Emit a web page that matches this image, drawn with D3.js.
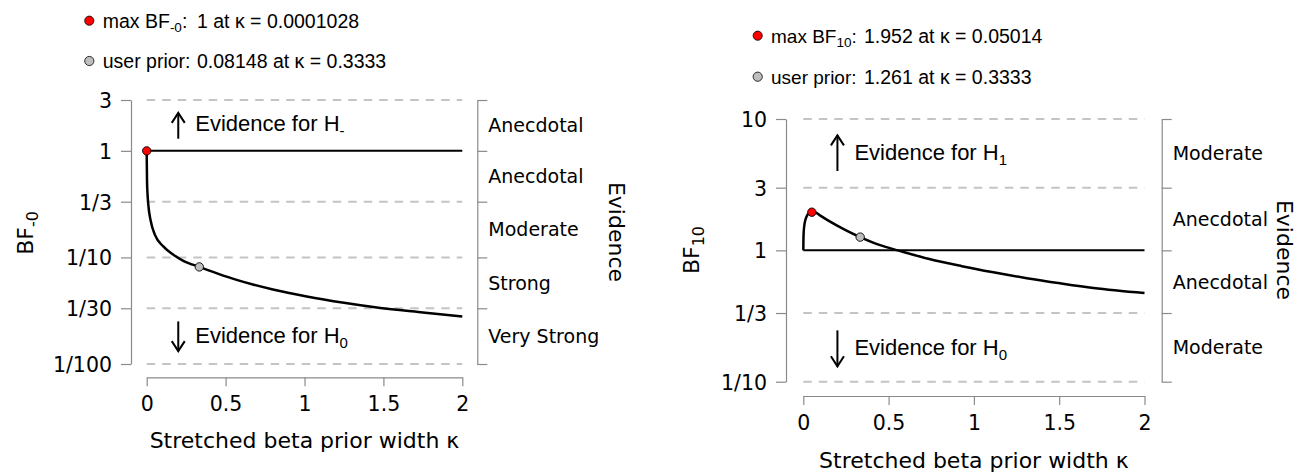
<!DOCTYPE html>
<html>
<head>
<meta charset="utf-8">
<script src="https://cdn.jsdelivr.net/npm/d3@7"></script>
<style>
  html, body { margin: 0; padding: 0; background: #ffffff; }
  svg { display: block; }
</style>
</head>
<body>
<svg id="chart" width="1310" height="476"></svg>
<script>
// ---------------- DATA ----------------
const kappaTicks = [0, 0.5, 1, 1.5, 2];
const kappaTickLabels = ["0", "0.5", "1", "1.5", "2"];

// Left panel: BF-0
const leftYTicks = [3, 1, 1/3, 1/10, 1/30, 1/100];
const leftYTickLabels = ["3", "1", "1/3", "1/10", "1/30", "1/100"];
const leftGridValues = [3, 1/3, 1/10, 1/30, 1/100];
const leftEvidenceLabels = ["Anecdotal", "Anecdotal", "Moderate", "Strong", "Very Strong"];
const leftKappa = [0.0001028, 0.0005, 0.002, 0.005, 0.010, 0.025, 0.053, 0.105, 0.169, 0.232, 0.3333, 0.45, 0.57, 0.80, 1.014, 1.25, 1.436, 1.75, 2.0];
const leftBF    = [1.0,       0.80,   0.52,  0.40,  0.315, 0.222, 0.162, 0.127, 0.106, 0.093, 0.08148, 0.0705, 0.0615, 0.050, 0.043, 0.0375, 0.0342, 0.0304, 0.0279];
const leftMax  = { kappa: 0.0001028, bf: 1 };
const leftUser = { kappa: 0.3333, bf: 0.08148 };
const leftMaxText  = "1 at \u03BA = 0.0001028";
const leftUserText = "0.08148 at \u03BA = 0.3333";

// Right panel: BF10
const rightYTicks = [10, 3, 1, 1/3, 1/10];
const rightYTickLabels = ["10", "3", "1", "1/3", "1/10"];
const rightGridValues = [10, 3, 1/3, 1/10];
const rightEvidenceLabels = ["Moderate", "Anecdotal", "Anecdotal", "Moderate"];
const rightKappa = [0.0001, 0.0008, 0.002, 0.006, 0.012, 0.02, 0.033, 0.05014, 0.075, 0.10, 0.147, 0.245, 0.3333, 0.45, 0.56, 0.733, 0.929, 1.114, 1.31, 1.506, 1.701, 2.0];
const rightBF    = [1.0,    1.2,    1.35,  1.55,  1.70,  1.82, 1.92,  1.952,   1.934, 1.838, 1.684, 1.432, 1.261,  1.095, 0.995, 0.862, 0.758, 0.681, 0.614, 0.561, 0.517, 0.473];
const rightMax  = { kappa: 0.05014, bf: 1.952 };
const rightUser = { kappa: 0.3333, bf: 1.261 };
const rightMaxText  = "1.952 at \u03BA = 0.05014";
const rightUserText = "1.261 at \u03BA = 0.3333";

// ---------------- LAYOUT ----------------
const AXFONT = "'DejaVu Sans', sans-serif";
const TXFONT = "'Liberation Sans', Arial, sans-serif";
const svg = d3.select("#chart");

const panels = [
  {
    xRange: [146.7, 462.3], yDomain: [1/100, 3], yRange: [364, 100],
    yAxisX: 131, xAxisY: 377.3, bracketX: 477.3,
    yTitle: { x: 25, y: 233, main: "BF", sub: "-0" },
    xTitleY: 448,
    evTitle: { x: 617, y: 232 },
    legend: { dotX: 89.3, rows: [20.7, 61], textX: 102.7, valueX: 197, sub: "-0", size: 19.5 },
    arrows: { kappa: 0.2, up: [1.3, 2.27], upText: 1.83, down: [0.0251, 0.0132], downText: 0.0188, upSub: "-" , downSub: "0"},
    yTicks: leftYTicks, yTickLabels: leftYTickLabels, grid: leftGridValues, evLabels: leftEvidenceLabels,
    kappa: leftKappa, bf: leftBF, max: leftMax, user: leftUser, maxText: leftMaxText, userText: leftUserText
  },
  {
    xRange: [803.3, 1144.5], yDomain: [1/10, 10], yRange: [381.7, 119],
    yAxisX: 786, xAxisY: 396, bracketX: 1161.7,
    yTitle: { x: 691.5, y: 250, main: "BF", sub: "10" },
    xTitleY: 468,
    evTitle: { x: 1285, y: 250 },
    legend: { dotX: 757.7, rows: [35.7, 76.7], textX: 771, valueX: 864, sub: "10", size: 19 },
    arrows: { kappa: 0.2, up: [4.02, 7.5], upText: 5.6, down: [0.246, 0.131], downText: 0.184, upSub: "1", downSub: "0" },
    yTicks: rightYTicks, yTickLabels: rightYTickLabels, grid: rightGridValues, evLabels: rightEvidenceLabels,
    kappa: rightKappa, bf: rightBF, max: rightMax, user: rightUser, maxText: rightMaxText, userText: rightUserText
  }
];

const AXIS_COLOR = "#8a8a8a";

panels.forEach(p => {
  const x = d3.scaleLinear().domain([0, 2]).range(p.xRange);
  const y = d3.scaleLog().domain(p.yDomain).range(p.yRange);
  const g = svg.append("g");

  // gridlines
  g.selectAll("line.grid").data(p.grid).enter().append("line")
    .attr("x1", x(0)).attr("x2", x(2))
    .attr("y1", d => y(d)).attr("y2", d => y(d))
    .attr("stroke", "#c4c4c4").attr("stroke-width", 2)
    .attr("stroke-dasharray", "8.5,7");

  // left y axis
  const yAxis = d3.axisLeft(y).tickValues(p.yTicks)
    .tickFormat((d, i) => p.yTickLabels[i]).tickSize(10).tickSizeOuter(0).tickPadding(9);
  const ga = g.append("g").attr("transform", `translate(${p.yAxisX},0)`).call(yAxis);
  ga.selectAll("text").attr("font-family", AXFONT).attr("font-size", 20.5).attr("fill", "#000").attr("dy", "0.36em");

  // bottom x axis
  const xAxis = d3.axisBottom(x).tickValues(kappaTicks)
    .tickFormat((d, i) => kappaTickLabels[i]).tickSize(9).tickSizeOuter(0).tickPadding(10);
  const gx = g.append("g").attr("transform", `translate(0,${p.xAxisY})`).call(xAxis);
  gx.selectAll("text").attr("font-family", AXFONT).attr("font-size", 20.5).attr("fill", "#000");

  // right evidence bracket axis
  const yAxisR = d3.axisRight(y).tickValues(p.yTicks).tickFormat("").tickSize(10).tickSizeOuter(0);
  const gr = g.append("g").attr("transform", `translate(${p.bracketX},0)`).call(yAxisR);

  [ga, gx, gr].forEach(a => {
    a.select(".domain").attr("stroke", AXIS_COLOR).attr("stroke-width", 1.2);
    a.selectAll(".tick line").attr("stroke", AXIS_COLOR).attr("stroke-width", 1.2);
  });

  // evidence labels at log-midpoints between ticks
  const mids = p.evLabels.map((lab, i) => ({ lab, v: Math.sqrt(p.yTicks[i] * p.yTicks[i + 1]) }));
  g.selectAll("text.ev").data(mids).enter().append("text")
    .attr("x", p.bracketX + 11).attr("y", d => y(d.v)).attr("dy", "0.36em")
    .attr("font-family", AXFONT).attr("font-size", 19).text(d => d.lab);

  // Evidence title (rotated)
  g.append("text").attr("transform", `translate(${p.evTitle.x},${p.evTitle.y}) rotate(90)`)
    .attr("text-anchor", "middle").attr("dy", "0.36em")
    .attr("font-family", AXFONT).attr("font-size", 22).text("Evidence");

  // x title
  g.append("text").attr("x", (p.xRange[0] + p.xRange[1]) / 2).attr("y", p.xTitleY)
    .attr("text-anchor", "middle").attr("font-family", AXFONT).attr("font-size", 22)
    .text("Stretched beta prior width \u03BA");

  // y title
  const yt = g.append("text").attr("transform", `translate(${p.yTitle.x},${p.yTitle.y}) rotate(-90)`)
    .attr("text-anchor", "middle").attr("dy", "0.36em")
    .attr("font-family", AXFONT).attr("font-size", 22);
  yt.append("tspan").text(p.yTitle.main);
  yt.append("tspan").attr("font-size", 16).attr("dy", "0.3em").text(p.yTitle.sub);

  // reference line at BF = 1
  g.append("line").attr("x1", x(0)).attr("x2", x(2)).attr("y1", y(1)).attr("y2", y(1))
    .attr("stroke", "#000").attr("stroke-width", 2);

  // curve
  const pts = p.kappa.map((k, i) => [k, p.bf[i]]);
  const line = d3.line().x(d => x(d[0])).y(d => y(d[1])).curve(d3.curveMonotoneX);
  g.append("path").datum(pts).attr("d", line).attr("fill", "none")
    .attr("stroke", "#000").attr("stroke-width", 2.5);

  // points
  g.append("circle").attr("cx", x(p.max.kappa)).attr("cy", y(p.max.bf)).attr("r", 4.2)
    .attr("fill", "#ff0000").attr("stroke", "#000").attr("stroke-width", 0.9);
  g.append("circle").attr("cx", x(p.user.kappa)).attr("cy", y(p.user.bf)).attr("r", 4.2)
    .attr("fill", "#bebebe").attr("stroke", "#000").attr("stroke-width", 0.9);

  // arrows
  const ax = x(p.arrows.kappa);
  function arrow(y0, y1) {
    const dir = y1 < y0 ? 1 : -1;
    const tip = y1;
    g.append("line").attr("x1", ax).attr("x2", ax).attr("y1", y0).attr("y2", tip)
      .attr("stroke", "#000").attr("stroke-width", 2);
    g.append("path").attr("d", `M${ax - 6.5},${tip + dir * 10} L${ax},${tip} L${ax + 6.5},${tip + dir * 10}`)
      .attr("fill", "none").attr("stroke", "#000").attr("stroke-width", 2);
  }
  arrow(y(p.arrows.up[0]), y(p.arrows.up[1]));
  arrow(y(p.arrows.down[0]), y(p.arrows.down[1]));
  const t1 = g.append("text").attr("x", ax + 17).attr("y", y(p.arrows.upText)).attr("dy", "0.36em")
    .attr("font-family", TXFONT).attr("font-size", 22);
  t1.append("tspan").text("Evidence for H");
  t1.append("tspan").attr("font-size", 15).attr("dy", "0.35em").text(p.arrows.upSub);
  const t2 = g.append("text").attr("x", ax + 17).attr("y", y(p.arrows.downText)).attr("dy", "0.36em")
    .attr("font-family", TXFONT).attr("font-size", 22);
  t2.append("tspan").text("Evidence for H");
  t2.append("tspan").attr("font-size", 15).attr("dy", "0.35em").text(p.arrows.downSub);

  // legend at top
  const L = p.legend;
  g.append("circle").attr("cx", L.dotX).attr("cy", L.rows[0]).attr("r", 4.6)
    .attr("fill", "#ff0000").attr("stroke", "#000").attr("stroke-width", 0.8);
  g.append("circle").attr("cx", L.dotX).attr("cy", L.rows[1]).attr("r", 4.6)
    .attr("fill", "#bebebe").attr("stroke", "#000").attr("stroke-width", 0.8);
  const l1 = g.append("text").attr("x", L.textX).attr("y", L.rows[0]).attr("dy", "0.36em")
    .attr("font-family", TXFONT).attr("font-size", L.size);
  l1.append("tspan").text("max BF");
  l1.append("tspan").attr("font-size", 13.5).attr("dy", "0.3em").text(L.sub);
  l1.append("tspan").attr("dy", "-0.2em").text(":");
  g.append("text").attr("x", L.valueX).attr("y", L.rows[0]).attr("dy", "0.36em")
    .attr("font-family", TXFONT).attr("font-size", 19.5).text(p.maxText);
  g.append("text").attr("x", L.textX).attr("y", L.rows[1]).attr("dy", "0.36em")
    .attr("font-family", TXFONT).attr("font-size", L.size).text("user prior:");
  g.append("text").attr("x", L.valueX).attr("y", L.rows[1]).attr("dy", "0.36em")
    .attr("font-family", TXFONT).attr("font-size", 19.5).text(p.userText);
});
</script>
</body>
</html>
